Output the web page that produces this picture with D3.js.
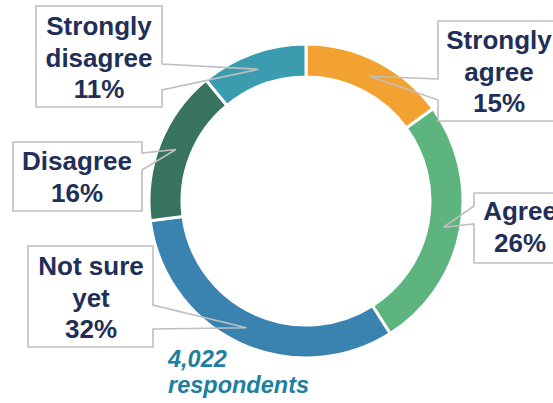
<!DOCTYPE html>
<html lang="en">
<head>
    <meta charset="utf-8">
    <title>Respondents donut</title>
    <script type="text/javascript" src="https://d3js.org/d3.v7.min.js"></script>
    <style type="text/css">
        body { margin: 0; background: #fff; }
        .label { font-family: "Liberation Sans", Arial, sans-serif; font-weight: bold; fill: #1f2f57; text-anchor: middle; }
        .note { font-family: "Liberation Sans", Arial, sans-serif; font-weight: bold; font-style: italic; fill: #1f7f9f; }
    </style>
</head>
<body>
<div id="chart"></div>
<script type="text/javascript">

    //Data: categories and shares, clockwise from the top
    var categories = ["Strongly agree", "Agree", "Not sure yet", "Disagree", "Strongly disagree"];
    var values = [15, 26, 32, 16, 11];
    var labelLines = [["Strongly", "agree"], ["Agree"], ["Not sure", "yet"], ["Disagree"], ["Strongly", "disagree"]];
    var respondents = 4022;

    var w = 553, h = 403;
    var cx = 306, cy = 201;
    var outerR = 157, innerR = 124;

    var color = d3.scaleOrdinal()
        .domain(categories)
        .range(["#f2a230", "#5eb47f", "#3a83b0", "#37735f", "#3a9cae"]);

    var svg = d3.select("#chart").append("svg")
        .attr("width", w)
        .attr("height", h);

    var pie = d3.pie().sort(null).value(function (d) { return d.value; });
    var arc = d3.arc().innerRadius(innerR).outerRadius(outerR);
    var tipArc = d3.arc().innerRadius(140).outerRadius(140);

    var data = categories.map(function (c, i) {
        return { name: c, value: values[i], lines: labelLines[i] };
    });
    var arcs = pie(data);

    var g = svg.append("g").attr("transform", "translate(" + cx + "," + cy + ")");

    g.selectAll("path.slice")
        .data(arcs)
        .enter()
        .append("path")
        .attr("class", "slice")
        .attr("d", arc)
        .attr("fill", function (d) { return color(d.data.name); })
        .attr("stroke", "#fff")
        .attr("stroke-width", 3);

    //Callout boxes: rectangle, side of the pointer, pointer base on that side
    var boxes = {
        "Strongly agree":    { x0: 438, y0: 21,  x1: 575, y1: 121, side: "left",  b1: 79,  b2: 100, tx: 499, ty: 49 },
        "Agree":             { x0: 474, y0: 193, x1: 575, y1: 263, side: "left",  b1: 206, b2: 224, tx: 520, ty: 220 },
        "Not sure yet":      { x0: 28,  y0: 246, x1: 153, y1: 347, side: "right", b1: 305, b2: 329, tx: 91,  ty: 275 },
        "Disagree":          { x0: 13,  y0: 142, x1: 142, y1: 211, side: "right", b1: 153, b2: 170, tx: 77,  ty: 170 },
        "Strongly disagree": { x0: 36,  y0: 6,   x1: 162, y1: 107, side: "right", b1: 64,  b2: 90,  tx: 99,  ty: 35 }
    };

    function calloutPath(b, tip) {
        var p;
        if (b.side === "right") {
            p = [[b.x0, b.y0], [b.x1, b.y0], [b.x1, b.b1], tip, [b.x1, b.b2], [b.x1, b.y1], [b.x0, b.y1]];
        } else {
            p = [[b.x0, b.y0], [b.x1, b.y0], [b.x1, b.y1], [b.x0, b.y1], [b.x0, b.b2], tip, [b.x0, b.b1]];
        }
        return "M" + p.map(function (q) { return q[0] + "," + q[1]; }).join("L") + "Z";
    }

    var callouts = svg.selectAll("g.callout")
        .data(arcs)
        .enter()
        .append("g")
        .attr("class", "callout");

    callouts.append("rect")
        .attr("x", function (d) { return boxes[d.data.name].x0; })
        .attr("y", function (d) { return boxes[d.data.name].y0; })
        .attr("width", function (d) { var b = boxes[d.data.name]; return b.x1 - b.x0; })
        .attr("height", function (d) { var b = boxes[d.data.name]; return b.y1 - b.y0; })
        .attr("fill", "#fff");

    callouts.append("path")
        .attr("d", function (d) {
            var c = tipArc.centroid(d);
            return calloutPath(boxes[d.data.name], [cx + c[0], cy + c[1]]);
        })
        .attr("fill", "none")
        .attr("stroke", "#bfbfbf")
        .attr("stroke-width", 1.6);

    var fmt = d3.format(".0f");
    callouts.each(function (d) {
        var b = boxes[d.data.name];
        var t = d3.select(this).append("text")
            .attr("class", "label")
            .attr("x", b.tx)
            .attr("y", b.ty)
            .style("font-size", "26px");
        var lines = d.data.lines.concat([fmt(d.data.value) + "%"]);
        lines.forEach(function (s, i) {
            t.append("tspan")
                .attr("x", b.tx)
                .attr("dy", i === 0 ? 0 : 31.5)
                .text(s);
        });
    });

    var note = svg.append("text")
        .attr("class", "note")
        .attr("x", 168)
        .attr("y", 367)
        .style("font-size", "23.5px");
    note.append("tspan").attr("x", 168).text(d3.format(",")(respondents));
    note.append("tspan").attr("x", 168).attr("dy", 26).text("respondents");

</script>
</body>
</html>
